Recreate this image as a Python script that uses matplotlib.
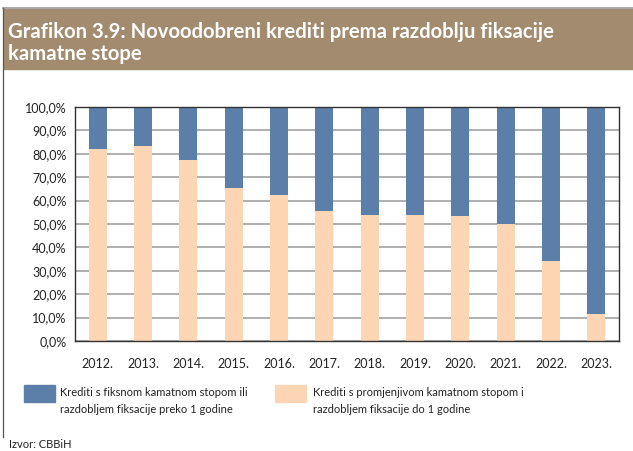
import matplotlib
matplotlib.use("Agg")
import matplotlib.pyplot as plt
from matplotlib.patches import Rectangle
from matplotlib.lines import Line2D
import numpy as np

# data (shares in %)
years = ["2012.", "2013.", "2014.", "2015.", "2016.", "2017.",
         "2018.", "2019.", "2020.", "2021.", "2022.", "2023."]
variable_rate = [82.0, 83.5, 77.2, 65.2, 62.2, 55.4, 53.7, 53.8, 53.6, 50.0, 34.0, 11.5]
fixed_rate = [100 - v for v in variable_rate]

label_fixed = "Krediti s fiksnom kamatnom stopom ili\nrazdobljem fiksacije preko 1 godine"
label_var = "Krediti s promjenjivom kamatnom stopom i\nrazdobljem fiksacije do 1 godine"
title = "Grafikon 3.9: Novoodobreni krediti prema razdoblju fiksacije\nkamatne stope"
source = "Izvor: CBBiH"

blue = "#5B7FA8"
peach = "#FCD5B4"
brown = "#A38B70"

plt.rcParams["font.family"] = ["Lato", "DejaVu Sans"]

W, H = 633, 451
fig = plt.figure(figsize=(W / 100, H / 100), dpi=100)

def fx(px):
    return px / W

def fy(py):
    return 1 - py / H

# frame and title band
fig.add_artist(Line2D([fx(3), 1], [fy(8), fy(8)], color="#9a9a9a", lw=1.2))
fig.add_artist(Line2D([fx(3), fx(3)], [fy(8), fy(437)], color="#555555", lw=0.9))
fig.add_artist(Rectangle((fx(3.5), fy(69)), 1 - fx(3.5), fy(9) - fy(69),
                         color=brown, transform=fig.transFigure, zorder=0))
fig.text(fx(8), fy(43), title, color="white", fontsize=14.6, fontweight="bold",
         va="center", ha="left", linespacing=1.15)

ax = fig.add_axes([fx(75), fy(341), fx(619) - fx(75), fy(107) - fy(341)])
x = np.arange(len(years))
ax.bar(x, variable_rate, 0.4, color=peach, zorder=2)
ax.bar(x, fixed_rate, 0.4, bottom=variable_rate, color=blue, zorder=2)

ax.set_xlim(-0.5, len(years) - 0.5)
ax.set_ylim(0, 100)
ax.set_yticks(np.arange(0, 101, 10))
ax.set_yticklabels([f"{v},0%" for v in range(0, 101, 10)])
ax.set_xticks(x)
ax.set_xticklabels(years)
ax.yaxis.grid(True, color="#a8a8a8", lw=1.3, zorder=0)
ax.set_axisbelow(True)
ax.tick_params(axis="both", length=0, labelsize=9, colors="#222222")
ax.tick_params(axis="x", pad=12)
ax.tick_params(axis="y", pad=6)
for s in ax.spines.values():
    s.set_color("#333333")
    s.set_linewidth(1.0)

# legend
fig.add_artist(Rectangle((fx(24), fy(402)), fx(31), fy(385) - fy(402),
                         color=blue, transform=fig.transFigure))
fig.text(fx(60), fy(401), label_fixed, fontsize=8, va="center", ha="left",
         linespacing=1.6, color="#222222")
fig.add_artist(Rectangle((fx(275), fy(402)), fx(31), fy(385) - fy(402),
                         color=peach, transform=fig.transFigure))
fig.text(fx(313), fy(401), label_var, fontsize=8, va="center", ha="left",
         linespacing=1.6, color="#222222")

fig.text(fx(9), fy(444), source, fontsize=8, va="center", ha="left", color="#222222")

fig.savefig("out.png", dpi=100)
